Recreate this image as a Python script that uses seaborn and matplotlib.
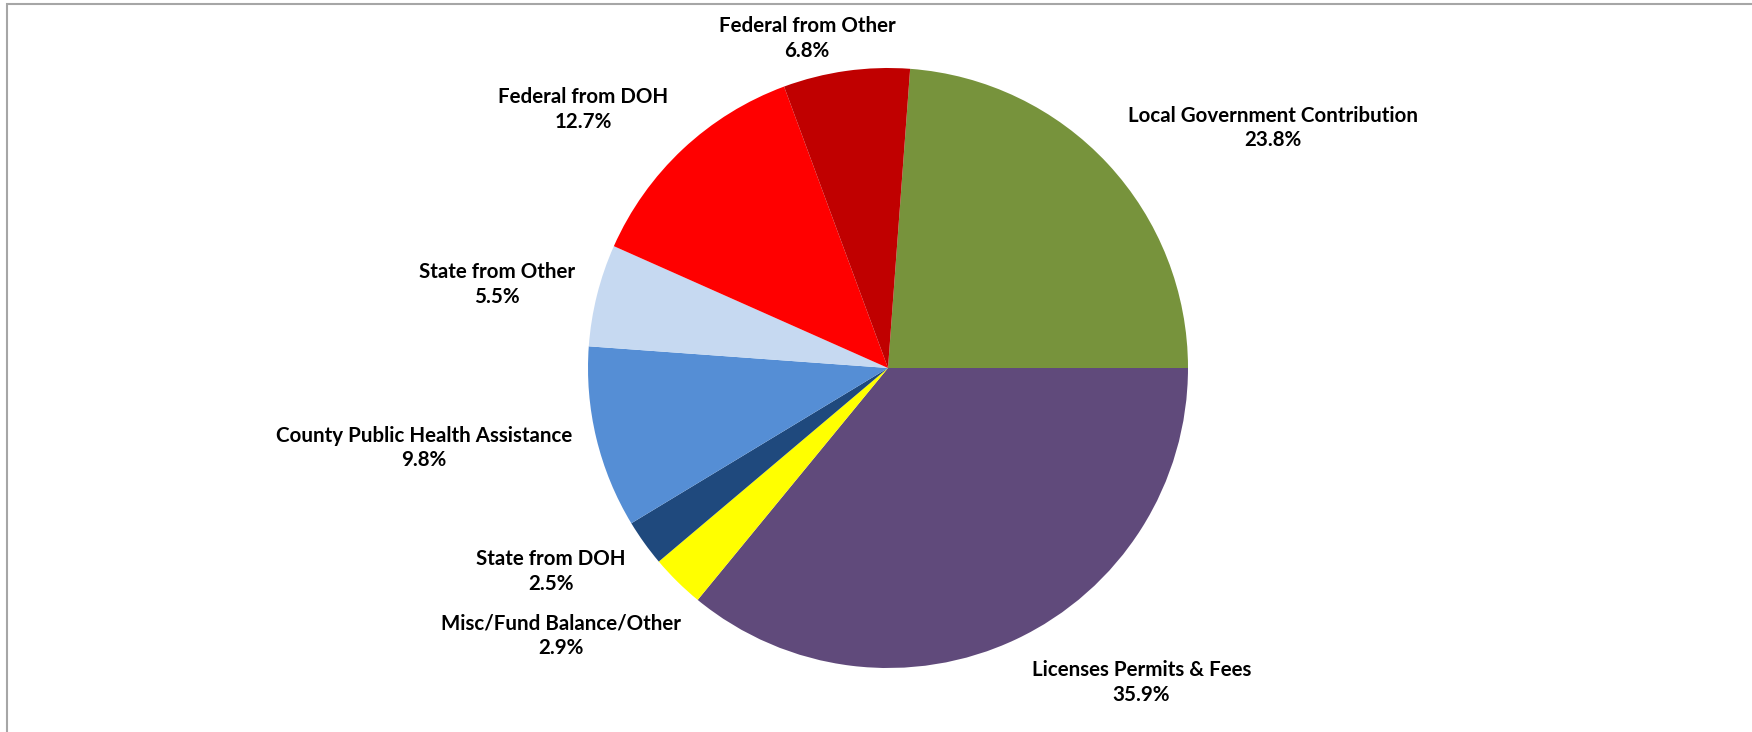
import matplotlib
matplotlib.use("Agg")
import matplotlib.pyplot as plt
import seaborn as sns
from matplotlib.patches import Rectangle

# Revenue sources (percent of total)
sources = [
    "Local Government Contribution",
    "Licenses Permits & Fees",
    "Misc/Fund Balance/Other",
    "State from DOH",
    "County Public Health Assistance",
    "State from Other",
    "Federal from DOH",
    "Federal from Other",
]
shares = [23.8, 35.9, 2.9, 2.5, 9.8, 5.5, 12.7, 6.8]
colors = ["#77933C", "#604A7B", "#FFFF00", "#1F497D",
          "#558ED5", "#C6D9F1", "#FF0000", "#C00000"]

# label centres in pie-radius units (layout only)
label_pos = [(1.282, 0.80), (0.845, -1.048), (-1.09, -0.893), (-1.123, -0.677),
             (-1.547, -0.267), (-1.303, 0.277), (-1.017, 0.862), (-0.27, 1.098)]

sns.set_theme(style="white")
plt.rcParams["font.family"] = ["Lato", "DejaVu Sans"]

fig = plt.figure(figsize=(17.52, 7.32), dpi=100)
ax = fig.add_axes([0, 0, 1, 1])

# Excel-style: clockwise, first slice ending at 3 o'clock
start = shares[0] / sum(shares) * 360
ax.pie(shares, colors=sns.color_palette(colors), startangle=start,
       counterclock=False, radius=1.0,
       wedgeprops=dict(linewidth=0))

for name, val, (lx, ly) in zip(sources, shares, label_pos):
    ax.text(lx, ly, f"{name}\n{val:.1f}%", ha="center", va="center",
            fontsize=14.8, fontweight="bold", color="black", linespacing=1.3)

# map data units to pixels: radius = 300 px, centre at (888, 368)
W, H, cx, cy, r = 1752, 732, 888, 368, 300
ax.set_xlim(-cx / r, (W - cx) / r)
ax.set_ylim(-(H - cy) / r, cy / r)
ax.set_aspect("auto")
ax.axis("off")

# chart-area border (runs off the right and bottom edges)
fig.add_artist(Rectangle((7 / W, -0.05), 1.1, 1 - 4 / H + 0.05,
                         transform=fig.transFigure, fill=False,
                         edgecolor="#A6A6A6", linewidth=1.5))

fig.savefig("out.png", dpi=100, facecolor="white")
